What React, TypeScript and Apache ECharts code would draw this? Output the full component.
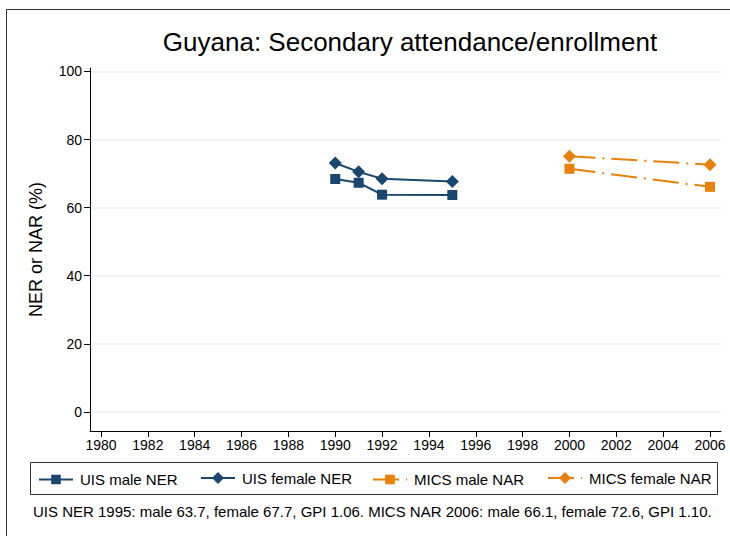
import React, { useEffect, useRef } from "react";
import * as echarts from "echarts";

const uisYears = [1990, 1991, 1992, 1995];
const uisMale = [68.4, 67.3, 63.8, 63.7];
const uisFemale = [73.1, 70.5, 68.5, 67.7];
const micsYears = [2000, 2006];
const micsMale = [71.4, 66.1];
const micsFemale = [75.1, 72.6];
const xTicks = [1980, 1982, 1984, 1986, 1988, 1990, 1992, 1994, 1996, 1998, 2000, 2002, 2004, 2006];
const yTicks = [0, 20, 40, 60, 80, 100];
const seriesNames = ["UIS male NER", "UIS female NER", "MICS male NAR", "MICS female NAR"];
const titleText = "Guyana: Secondary attendance/enrollment";
const yAxisTitle = "NER or NAR (%)";
const footnote = "UIS NER 1995: male 63.7, female 67.7, GPI 1.06. MICS NAR 2006: male 66.1, female 72.6, GPI 1.10.";

const NAVY = "#1a476f";
const ORANGE = "#e8800a";
const FONT = "Liberation Sans, Arial, sans-serif";

export default function App() {
  const ref = useRef<HTMLDivElement>(null);
  useEffect(() => {
    if (!ref.current) return;
    const chart = echarts.init(ref.current, undefined, { renderer: "svg" });
    const pair = (xs: number[], ys: number[]) => xs.map((x, i) => [x, ys[i]]);
    const legendLefts = [38, 200, 372, 547];
    const legendHeights = [12, 15, 12, 15];
    const option: any = {
      animation: false,
      backgroundColor: "#ffffff",
      textStyle: { fontFamily: FONT },
      title: {
        text: titleText,
        left: 405,
        top: 24,
        textAlign: "center",
        textStyle: { fontFamily: FONT, fontSize: 26, fontWeight: "normal", color: "#000" },
      },
      grid: { left: 90, right: 9, top: 68, bottom: 105 },
      xAxis: {
        type: "value",
        min: 1979.53,
        max: 2006.47,
        axisLine: { show: true, onZero: false, lineStyle: { color: "#000", width: 1 } },
        axisTick: { show: true, length: 6, customValues: xTicks, lineStyle: { color: "#000" } },
        axisLabel: {
          customValues: xTicks, fontSize: 14, color: "#000", margin: 7, fontFamily: FONT,
          formatter: (v: number) => String(v),
        },
        splitLine: { show: false },
      },
      yAxis: {
        type: "value",
        min: -5.6,
        max: 101,
        axisLine: { show: true, onZero: false, lineStyle: { color: "#000", width: 1 } },
        axisTick: { show: true, length: 6, customValues: yTicks, lineStyle: { color: "#000" } },
        axisLabel: { customValues: yTicks, fontSize: 14, color: "#000", margin: 8, fontFamily: FONT },
        splitLine: { show: true, lineStyle: { color: "#eaf2f3", width: 1.5 } },
        name: yAxisTitle,
        nameLocation: "middle",
        nameGap: 45,
        nameTextStyle: { fontSize: 18, color: "#000", fontFamily: FONT },
      },
      legend: seriesNames.map((n, i) => ({
        data: [n],
        left: legendLefts[i],
        top: 478 - legendHeights[i] / 2,
        itemWidth: 34,
        itemHeight: legendHeights[i],
        itemGap: 0,
        padding: 0,
        textStyle: { fontSize: 15, color: "#000", fontFamily: FONT, padding: [0, 0, 0, 2] },
      })),
      graphic: [
        { type: "rect", shape: { x: 6.5, y: 9.5, width: 800, height: 600 }, style: { fill: "none", stroke: "#333", lineWidth: 1 }, silent: true },
        { type: "rect", shape: { x: 30.5, y: 462.5, width: 687, height: 32 }, style: { fill: "none", stroke: "#333", lineWidth: 1 }, silent: true },
        { type: "text", x: 33, y: 504, style: { text: footnote, fontSize: 15, fontFamily: FONT, fill: "#000" } },
      ],
      series: [
        {
          name: seriesNames[0], type: "line", data: pair(uisYears, uisMale),
          symbol: "rect", symbolSize: 10, itemStyle: { color: NAVY },
          lineStyle: { color: NAVY, width: 2 },
        },
        {
          name: seriesNames[1], type: "line", data: pair(uisYears, uisFemale),
          symbol: "diamond", symbolSize: 13, itemStyle: { color: NAVY },
          lineStyle: { color: NAVY, width: 2 },
        },
        {
          name: seriesNames[2], type: "line", data: pair(micsYears, micsMale),
          symbol: "rect", symbolSize: 10, itemStyle: { color: ORANGE },
          lineStyle: { color: ORANGE, width: 2, type: [26, 7, 2, 7] },
        },
        {
          name: seriesNames[3], type: "line", data: pair(micsYears, micsFemale),
          symbol: "diamond", symbolSize: 13, itemStyle: { color: ORANGE },
          lineStyle: { color: ORANGE, width: 2, type: [26, 7, 2, 7] },
        },
      ],
    };
    chart.setOption(option);
    return () => chart.dispose();
  }, []);
  return <div ref={ref} style={{ width: 730, height: 536, position: "absolute", left: 0, top: 0 }} />;
}
